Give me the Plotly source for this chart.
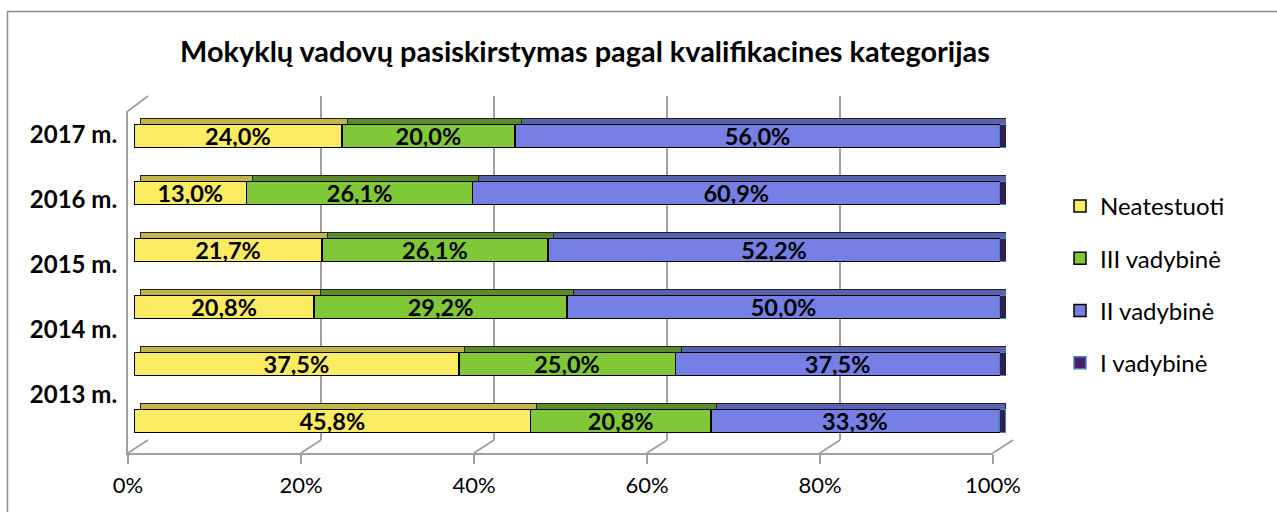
import plotly.graph_objects as go

W, H = 1277, 512

rows = [1, 2, 3, 4, 5, 6]
years = ["2013 m.", "2014 m.", "2015 m.", "2016 m.", "2017 m."]
neatestuoti = [45.8, 37.5, 20.8, 21.7, 13.0, 24.0]
iii_vadybine = [20.8, 25.0, 29.2, 26.1, 26.1, 20.0]
ii_vadybine = [33.3, 37.5, 50.0, 52.2, 60.9, 56.0]
i_vadybine = [0, 0, 0, 0, 0, 0]
tick_values = [0, 20, 40, 60, 80, 100]
tick_labels = ["0%", "20%", "40%", "60%", "80%", "100%"]

series = [
    ("Neatestuoti", neatestuoti, "#F9EC62", "#C4B44C"),
    ("III vadybinė", iii_vadybine, "#80C837", "#5A8C2C"),
    ("II vadybinė", ii_vadybine, "#7680E4", "#5862B0"),
]
SIDE = "#2E2150"
FONT = "Lato"
GRID = "#A0A0A0"


def xdom(left, right):
    return [left / W, right / W]


def ydom(top, bottom):
    return [1 - bottom / H, 1 - top / H]


# pixel boxes of the pseudo-3D layers
back = (148, 1013, 96, 440)
top_face = (140, 1006, 101.5, 443.5)
side_face = (140, 1006, 107.5, 449.5)
front = (134, 1000, 107.5, 449.5)
frame = (128, 993, 111, 453)
labels_box = (128, 993, 102.5, 427.5)

fig = go.Figure()

# back wall (x/y) - only gridlines
fig.add_trace(go.Scatter(x=[None], y=[None], xaxis="x", yaxis="y",
                         showlegend=False, hoverinfo="skip"))

# top faces (x2/y2)
for name, vals, col, dark in series:
    fig.add_trace(go.Bar(
        y=rows, x=vals, orientation="h", xaxis="x2", yaxis="y2",
        marker=dict(color=dark, line=dict(color="#222222", width=1)),
        width=0.4, showlegend=False, hoverinfo="skip",
    ))

# side faces (x3/y3)
for name, vals, col, dark in series:
    fig.add_trace(go.Bar(
        y=rows, x=vals, orientation="h", xaxis="x3", yaxis="y3",
        marker=dict(color=SIDE, line=dict(color="#4F81BD", width=1)),
        width=0.4, showlegend=False, hoverinfo="skip",
    ))

# front faces (x4/y4)
for name, vals, col, dark in series:
    fig.add_trace(go.Bar(
        y=rows, x=vals, orientation="h", xaxis="x4", yaxis="y4",
        name=name, legendgroup=name,
        marker=dict(color=col, line=dict(color="#000000", width=1.5)),
        width=0.4,
        text=vals, texttemplate="%{x:.1f}%", textposition="inside",
        insidetextanchor="middle",
        textfont=dict(family=FONT, size=23.5, color="#000000", weight="bold"),
    ))

fig.add_trace(go.Bar(
    y=rows, x=i_vadybine, orientation="h", xaxis="x4", yaxis="y4",
    name="I vadybinė", legendgroup="I vadybinė",
    marker=dict(color="#4B1F6E", line=dict(color="#4F81BD", width=1.5)),
    width=0.4,
))

# front frame (x5/y5) and year labels (x6/y6)
fig.add_trace(go.Scatter(x=[None], y=[None], xaxis="x5", yaxis="y5",
                         showlegend=False, hoverinfo="skip"))
fig.add_trace(go.Scatter(x=[None], y=[None], xaxis="x6", yaxis="y6",
                         showlegend=False, hoverinfo="skip"))

hidden = dict(showgrid=False, zeroline=False, showticklabels=False, ticks="", showline=False)

fig.update_layout(
    width=W, height=H,
    margin=dict(l=0, r=0, t=0, b=0, autoexpand=False),
    paper_bgcolor="white",
    plot_bgcolor="rgba(0,0,0,0)",
    barmode="stack",
    separators=", ",
    font=dict(family=FONT, color="#000000"),
    title=dict(
        text="<b>Mokyklų vadovų pasiskirstymas pagal kvalifikacines kategorijas</b>",
        x=585 / W, xanchor="center", y=1 - 52 / H, yanchor="middle",
        font=dict(family=FONT, size=28.9, color="#000000"),
    ),
    xaxis=dict(domain=xdom(*back[:2]), range=[0, 100], tickvals=tick_values,
               showgrid=True, gridcolor=GRID, gridwidth=2,
               zeroline=False, showticklabels=False, ticks="", anchor="y"),
    yaxis=dict(domain=ydom(*back[2:]), range=[0, 1], anchor="x", **hidden),
    xaxis2=dict(domain=xdom(*top_face[:2]), range=[0, 100], anchor="y2", **hidden),
    yaxis2=dict(domain=ydom(*top_face[2:]), range=[0.5, 6.5], anchor="x2", **hidden),
    xaxis3=dict(domain=xdom(*side_face[:2]), range=[0, 100], anchor="y3", **hidden),
    yaxis3=dict(domain=ydom(*side_face[2:]), range=[0.5, 6.5], anchor="x3", **hidden),
    xaxis4=dict(domain=xdom(*front[:2]), range=[0, 100], anchor="y4", **hidden),
    yaxis4=dict(domain=ydom(*front[2:]), range=[0.5, 6.5], anchor="x4", **hidden),
    xaxis5=dict(domain=xdom(*frame[:2]), range=[0, 100], anchor="y5",
                tickvals=tick_values, ticktext=tick_labels,
                showgrid=False, zeroline=False,
                showline=True, linecolor=GRID, linewidth=2,
                ticks="outside", ticklen=9, tickcolor=GRID, tickwidth=2,
                ticklabelstandoff=3,
                tickfont=dict(family=FONT, size=22, color="#000000")),
    yaxis5=dict(domain=ydom(*frame[2:]), range=[0, 1], anchor="x5",
                showgrid=False, zeroline=False, showticklabels=False, ticks="",
                showline=True, linecolor=GRID, linewidth=2),
    xaxis6=dict(domain=xdom(*labels_box[:2]), range=[0, 100], anchor="y6", **hidden),
    yaxis6=dict(domain=ydom(*labels_box[2:]), range=[0.5, 5.5], anchor="x6",
                tickvals=[1, 2, 3, 4, 5], ticktext=years,
                showgrid=False, zeroline=False, showline=False,
                ticks="outside", ticklen=5, tickcolor="rgba(0,0,0,0)",
                tickfont=dict(family=FONT, size=24, color="#000000", weight="bold")),
    legend=dict(
        x=1060 / W, xanchor="left", y=1 - 184 / H, yanchor="top",
        traceorder="grouped", tracegroupgap=18,
        font=dict(family=FONT, size=24, color="#000000"),
        bgcolor="rgba(0,0,0,0)",
    ),
    uniformtext=dict(minsize=23.5, mode="show"),
)

# 3D floor diagonals and left wall top edge
for v in tick_values:
    fx = (frame[0] + (frame[1] - frame[0]) * v / 100) / W
    bx = (back[0] + (back[1] - back[0]) * v / 100) / W
    fig.add_shape(type="line", xref="paper", yref="paper",
                  x0=fx, y0=1 - frame[3] / H, x1=bx, y1=1 - back[3] / H,
                  line=dict(color=GRID, width=2))
fig.add_shape(type="line", xref="paper", yref="paper",
              x0=frame[0] / W, y0=1 - frame[2] / H, x1=back[0] / W, y1=1 - back[2] / H,
              line=dict(color=GRID, width=2))

# outer chart border
fig.add_shape(type="rect", xref="paper", yref="paper",
              x0=7.5 / W, y0=-0.1, x1=1.1, y1=1 - 11.5 / H,
              line=dict(color="#8C8C8C", width=1.5), fillcolor="rgba(0,0,0,0)")

fig.write_html("out.html", config={"displayModeBar": False},
               post_script="document.body.style.margin = '0';")
